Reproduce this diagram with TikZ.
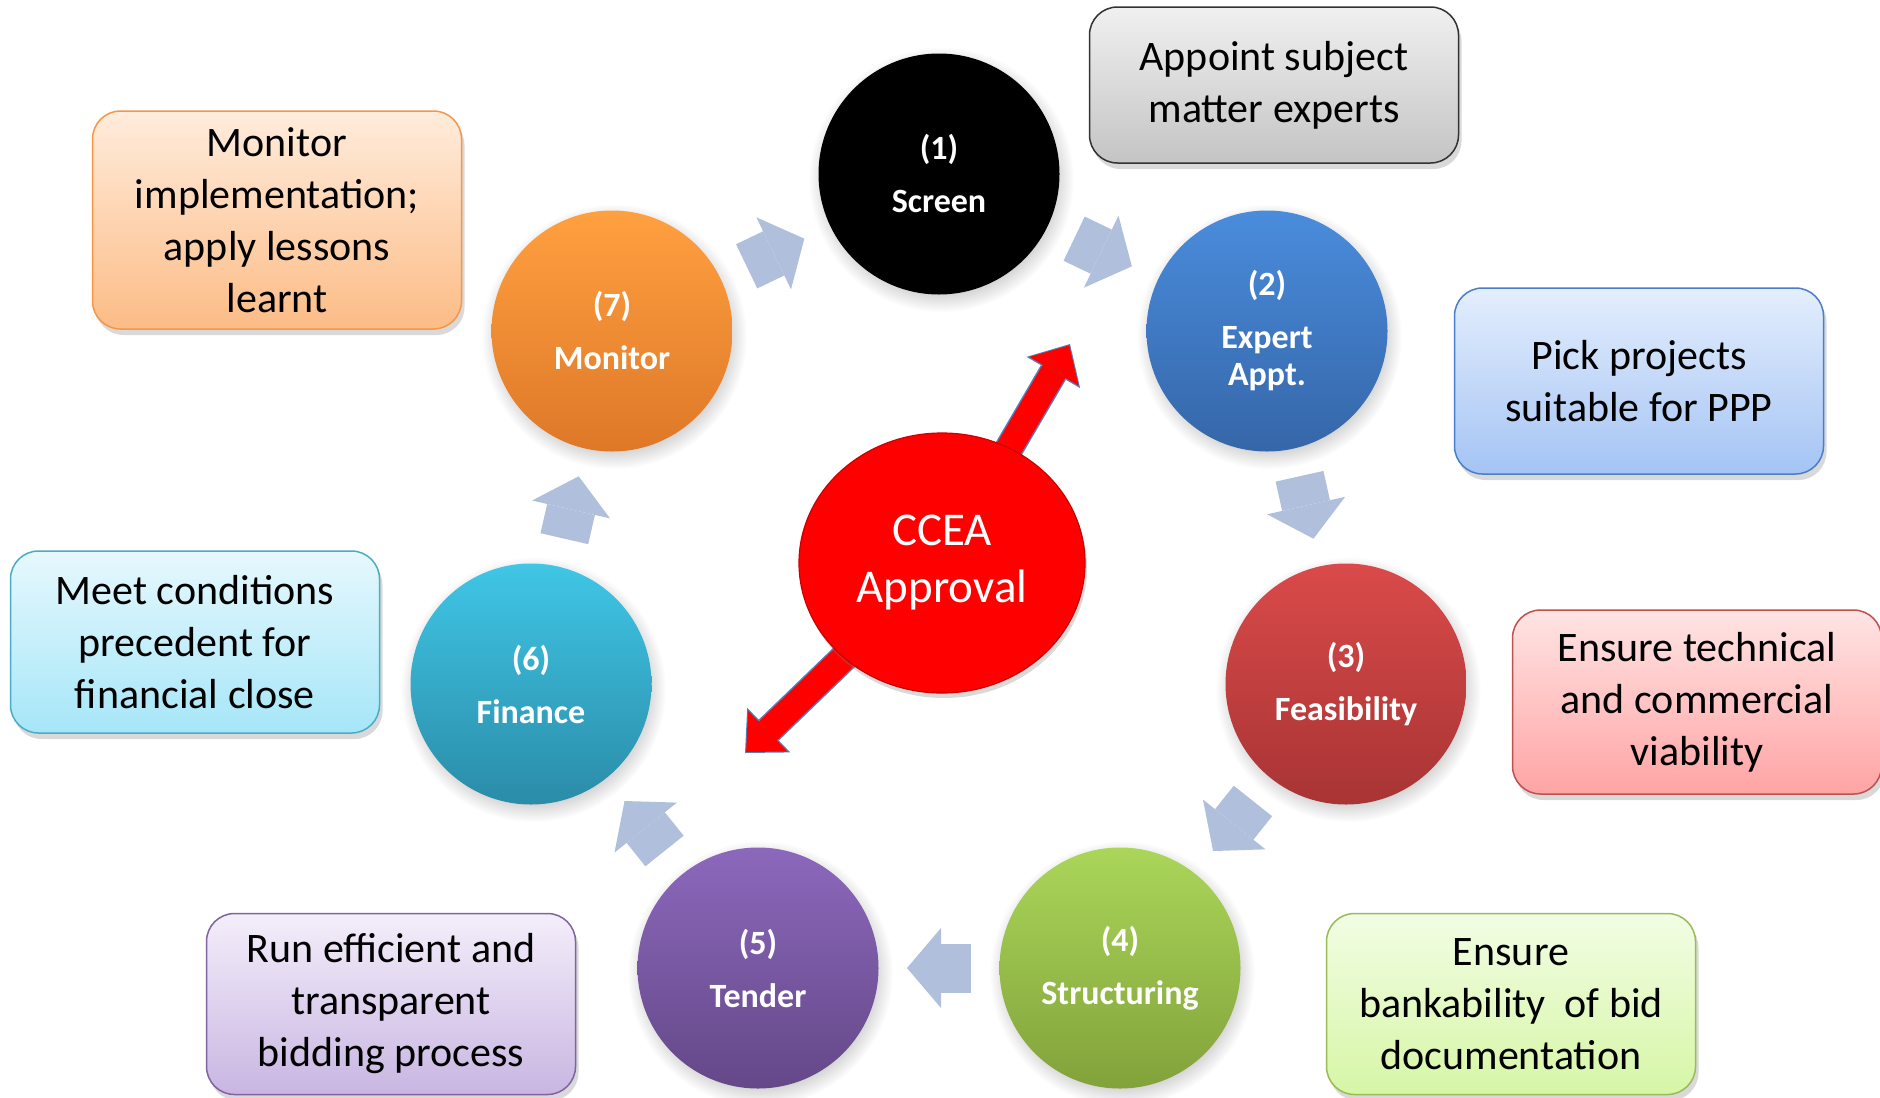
\documentclass[tikz,border=0pt]{standalone}
\usepackage{fontspec}
\setmainfont{Carlito}
\usetikzlibrary{shapes.geometric,shadows,calc,arrows.meta,backgrounds}

\definecolor{chevblue}{HTML}{B0C0DC}
\definecolor{redrim}{HTML}{4F81BD}
% stage colours
\definecolor{expTop}{HTML}{4A8CDC}  \definecolor{expBot}{HTML}{3566A8}
\definecolor{feaTop}{HTML}{DA4A4A}  \definecolor{feaBot}{HTML}{A83434}
\definecolor{strTop}{HTML}{AAD65A}  \definecolor{strBot}{HTML}{82A23A}
\definecolor{tenTop}{HTML}{8C68BC}  \definecolor{tenBot}{HTML}{644888}
\definecolor{finTop}{HTML}{40C6E6}  \definecolor{finBot}{HTML}{2A8CA8}
\definecolor{monTop}{HTML}{FFA040}  \definecolor{monBot}{HTML}{DE7828}
% note colours
\definecolor{grayTop}{HTML}{F0F0F0}  \definecolor{grayBot}{HTML}{C4C4C4}  \definecolor{grayEdge}{HTML}{323232}
\definecolor{blueTop}{HTML}{E4EEFD}  \definecolor{blueBot}{HTML}{A4C4F4}  \definecolor{blueEdge}{HTML}{4A7EC8}
\definecolor{pinkTop}{HTML}{FFE4E4}  \definecolor{pinkBot}{HTML}{FFA4A4}  \definecolor{pinkEdge}{HTML}{C0504D}
\definecolor{limeTop}{HTML}{F2FDE4}  \definecolor{limeBot}{HTML}{D6F6A6}  \definecolor{limeEdge}{HTML}{9BBB59}
\definecolor{lilaTop}{HTML}{F4EEFA}  \definecolor{lilaBot}{HTML}{C8B6E2}  \definecolor{lilaEdge}{HTML}{8064A2}
\definecolor{cyanTop}{HTML}{E6F8FD}  \definecolor{cyanBot}{HTML}{A6E6F8}  \definecolor{cyanEdge}{HTML}{4BACC6}
\definecolor{orngTop}{HTML}{FFECDC}  \definecolor{orngBot}{HTML}{FCBC86}  \definecolor{orngEdge}{HTML}{F79646}

\tikzset{
  stage/.style={circle,minimum size=241pt,inner sep=0pt,text=white,align=center,
    font=\fontsize{34}{37}\selectfont\bfseries,
    circular drop shadow={shadow xshift=2pt,shadow yshift=-5pt,opacity=0.35}},
  note/.style={rounded corners=28pt,minimum width=369pt,align=center,line width=1.5pt,
    font=\fontsize{42}{52}\selectfont,
    drop shadow={shadow xshift=3pt,shadow yshift=-6pt,opacity=0.3}},
  chev/.style={draw=chevblue,line width=49pt,-{Triangle[length=34pt,width=80pt,line width=0pt]}},
  redline/.style={draw=redrim,line width=29pt,-{Triangle[length=33pt,width=62pt,line width=0pt]}},
  redfill/.style={draw=red,line width=26pt,shorten >=1.6pt,-{Triangle[length=30pt,width=57pt,line width=0pt]}},
}

\begin{document}
\begin{tikzpicture}[x=1pt,y=-1pt]
  \useasboundingbox (0,0) rectangle (1880,1098);

  % centre
  \node[ellipse,minimum width=286pt,minimum height=260pt,inner sep=0pt,fill=red,
    draw=red!80!black,line width=1.2pt,text=white,align=center,
    font=\fontsize{47}{57}\selectfont,
    drop shadow={shadow xshift=2pt,shadow yshift=-5pt,opacity=0.3}] (cc) at (942,563) {CCEA\\Approval};
  \coordinate (tipU) at (1070,344);
  \coordinate (tipL) at (745,753);
  \begin{scope}[on background layer]
    \foreach \t in {tipU,tipL} {
      \draw[redline] (cc.center) -- (\t);
      \draw[redfill] (cc.center) -- (\t);
    }
  \end{scope}

  % stages
  \node[stage,fill=black] (s1) at (939,174) {(1)\\[16pt]Screen};
  \node[stage,top color=expTop,bottom color=expBot] (s2) at (1267,331) {(2)\\[16pt]Expert\\Appt.};
  \node[stage,top color=feaTop,bottom color=feaBot] (s3) at (1346,684) {(3)\\[16pt]Feasibility};
  \node[stage,top color=strTop,bottom color=strBot] (s4) at (1120,968) {(4)\\[16pt]Structuring};
  \node[stage,top color=tenTop,bottom color=tenBot] (s5) at (758,968) {(5)\\[16pt]Tender};
  \node[stage,top color=finTop,bottom color=finBot] (s6) at (531,684) {(6)\\[16pt]Finance};
  \node[stage,top color=monTop,bottom color=monBot] (s7) at (612,331) {(7)\\[16pt]Monitor};

  % chevrons between stages
  \foreach \a/\b in {s7/s1,s1/s2,s2/s3,s3/s4,s4/s5,s5/s6,s6/s7}
    \draw[chev] ($(\a)!0.5!(\b)!32pt!(\a)$) -- ($(\a)!0.5!(\b)!32pt!(\b)$);

  % notes
  \node[note,minimum height=156pt,draw=grayEdge,top color=grayTop,bottom color=grayBot] (n1) at (1274,85) {Appoint subject\\matter experts};
  \node[note,minimum height=186pt,draw=blueEdge,top color=blueTop,bottom color=blueBot] (n2) at (1639,381) {Pick projects\\suitable for PPP};
  \node[note,minimum height=184pt,draw=pinkEdge,top color=pinkTop,bottom color=pinkBot] (n3) at (1697,702) {Ensure technical\\and commercial\\viability};
  \node[note,minimum height=181pt,draw=limeEdge,top color=limeTop,bottom color=limeBot] (n4) at (1511,1004) {Ensure\\bankability \ of bid\\documentation};
  \node[note,minimum height=181pt,draw=lilaEdge,top color=lilaTop,bottom color=lilaBot] (n5) at (391,1004) {Run efficient and\\transparent\\bidding process};
  \node[note,minimum height=182pt,draw=cyanEdge,top color=cyanTop,bottom color=cyanBot] (n6) at (195,642) {Meet conditions\\precedent for\\financial close};
  \node[note,minimum height=218pt,draw=orngEdge,top color=orngTop,bottom color=orngBot] (n7) at (277,220) {Monitor\\implementation;\\apply lessons\\learnt};
\end{tikzpicture}
\end{document}
